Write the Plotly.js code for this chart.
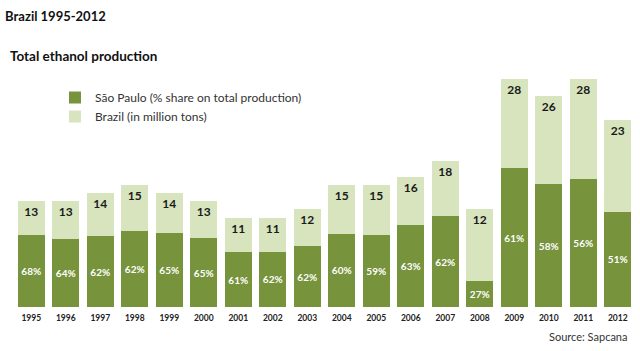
<!DOCTYPE html>
<html>
<head>
<meta charset="utf-8">
<script src="https://cdn.plot.ly/plotly-3.0.1.min.js"></script>
<style>html,body{margin:0;padding:0;background:#fff;}#chart{width:640px;height:351px;}</style>
</head>
<body>
<div id="chart"></div>
<script>
const years = ['1995','1996','1997','1998','1999','2000','2001','2002','2003','2004','2005','2006','2007','2008','2009','2010','2011','2012'];
const brazilTotal = [13,13,14,15,14,13,11,11,12,15,15,16,18,12,28,26,28,23];
const spSharePct = [68,64,62,62,65,65,61,62,62,60,59,63,62,27,61,58,56,51];

const spPart = brazilTotal.map((t, i) => t * spSharePct[i] / 100);
const restPart = brazilTotal.map((t, i) => t - spPart[i]);

const FONT = 'Lato, "Open Sans", sans-serif';

const traces = [
  {
    type: 'bar', x: years, y: spPart,
    name: 'São Paulo (% share on total production)',
    marker: {color: '#77933c'},
    text: spSharePct.map(v => v + '%'),
    textposition: 'inside', insidetextanchor: 'middle',
    textfont: {family: FONT, size: 10, color: '#ffffff', weight: 'bold'},
    constraintext: 'none', hoverinfo: 'skip'
  },
  {
    type: 'bar', x: years, y: restPart,
    name: 'Brazil (in million tons)',
    marker: {color: '#d7e4bd'},
    text: brazilTotal.map(String),
    textposition: 'inside', insidetextanchor: 'end',
    textfont: {family: FONT, size: 12, color: '#1a1a1a', weight: 'bold'},
    constraintext: 'none', hoverinfo: 'skip'
  }
];

const layout = {
  width: 640, height: 351,
  margin: {l: 14, r: 5, t: 63, b: 44},
  paper_bgcolor: '#ffffff', plot_bgcolor: '#ffffff',
  barmode: 'stack', bargap: 0.23,
  font: {family: FONT, color: '#333333'},
  title: {
    text: 'Brazil 1995-2012', x: 0.008, xanchor: 'left', xref: 'container',
    y: 0.954, yanchor: 'middle', yref: 'container',
    font: {family: FONT, size: 13, color: '#111111', weight: 'bold'}
  },
  xaxis: {
    type: 'category', showgrid: false, zeroline: false, showline: false,
    ticks: '', ticklabelstandoff: 4,
    tickfont: {family: FONT, size: 8.5, color: '#222222', weight: 'bold'}
  },
  yaxis: {range: [0, 30], visible: false, fixedrange: true},
  showlegend: true,
  legend: {
    x: 0.066, y: 0.918, xanchor: 'left', yanchor: 'top',
    traceorder: 'normal', bgcolor: 'rgba(0,0,0,0)',
    font: {family: FONT, size: 12, color: '#333333'}
  },
  annotations: [
    {
      text: 'Total ethanol production', xref: 'paper', yref: 'paper',
      x: -0.0097, y: 1.0287, xanchor: 'left', yanchor: 'middle', showarrow: false,
      font: {family: FONT, size: 13.5, color: '#111111', weight: 'bold'}
    },
    {
      text: 'Source: Sapcana', xref: 'paper', yref: 'paper',
      x: 0.9903, y: -0.1189, xanchor: 'right', yanchor: 'middle', showarrow: false,
      font: {family: FONT, size: 11, color: '#333333'}
    }
  ]
};

Plotly.newPlot('chart', traces, layout, {displayModeBar: false, staticPlot: true});
</script>
</body>
</html>
